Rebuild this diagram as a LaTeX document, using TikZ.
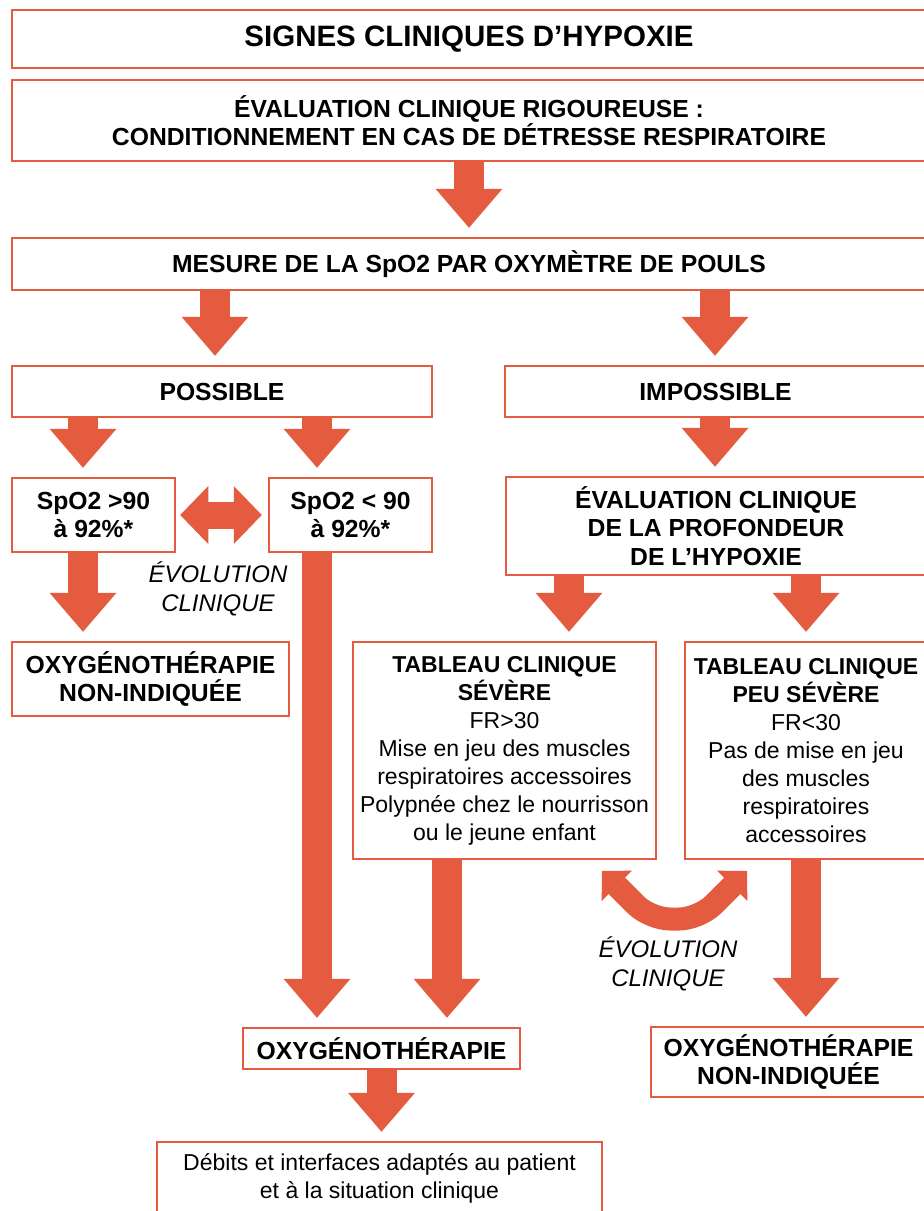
\documentclass[tikz,border=0pt]{standalone}
\usepackage{fontspec}
\setmainfont{Liberation Sans}
\usepackage{tikz}
\usetikzlibrary{arrows.meta}
\definecolor{hypred}{RGB}{228,91,64}

\begin{document}
\begin{tikzpicture}[x=1pt,y=-1pt,
        box/.style={draw=hypred,fill=white,line width=2.5pt,inner sep=0pt,align=center,
            font=\bfseries\fontsize{24.7}{28.5}\selectfont},
        plainbox/.style={box,font=\fontsize{23}{28}\selectfont},
        evo/.style={align=center,inner sep=0pt,font=\itshape\fontsize{24}{29}\selectfont},
        flow/.style={hypred,line width=30pt,shorten >=9pt,
            -{Triangle[width=67pt,length=39pt,line width=0pt]}},
        twoway/.style={hypred,line width=27pt,
            {Triangle[width=58pt,length=28pt,line width=0pt]}-{Triangle[width=58pt,length=28pt,line width=0pt]}},
        loopflow/.style={hypred,line width=23pt,rounded corners=20pt,
            {Triangle[width=43pt,length=21pt,line width=0pt]}-{Triangle[width=43pt,length=21pt,line width=0pt]}}]
        \useasboundingbox (0,0) rectangle (924,1211);
        \clip (0,0) rectangle (924,1211);
        \fill[white] (0,0) rectangle (924,1211);

        \node[box,minimum width=914,minimum height=58,font=\bfseries\fontsize{29.5}{34}\selectfont] (title) at (469,39) {SIGNES CLINIQUES D’HYPOXIE};
        \node[box,minimum width=914,minimum height=81] (evalrig) at (469,120.5) {ÉVALUATION CLINIQUE RIGOUREUSE :\\CONDITIONNEMENT EN CAS DE DÉTRESSE RESPIRATOIRE};
        \node[box,minimum width=914,minimum height=52] (mesure) at (469,264) {MESURE DE LA SpO2 PAR OXYMÈTRE DE POULS};
        \node[box,minimum width=420,minimum height=51] (possible) at (222,391.5) {POSSIBLE};
        \node[box,minimum width=421,minimum height=51] (impossible) at (715.5,391.5) {IMPOSSIBLE};
        \node[box,minimum width=163,minimum height=74] (sup) at (93.5,515) {SpO2 >90\\à 92\%*};
        \node[box,minimum width=163,minimum height=74] (inf) at (350.5,515) {SpO2 < 90\\à 92\%*};
        \node[box,minimum width=420,minimum height=98] (evalprof) at (716,526) {ÉVALUATION CLINIQUE\\DE LA PROFONDEUR\\DE L’HYPOXIE};
        \node[box,minimum width=277,minimum height=74] (nonindA) at (150.5,679) {OXYGÉNOTHÉRAPIE\\NON-INDIQUÉE};
        \node[plainbox,minimum width=303,minimum height=217] (severe) at (504.5,750.5) {\textbf{TABLEAU CLINIQUE}\\\textbf{SÉVÈRE}\\FR>30\\Mise en jeu des muscles\\respiratoires accessoires\\Polypnée chez le nourrisson\\ou le jeune enfant};
        \node[plainbox,minimum width=242,minimum height=217] (peusevere) at (806,750.5) {\textbf{TABLEAU CLINIQUE}\\\textbf{PEU SÉVÈRE}\\FR<30\\Pas de mise en jeu\\des muscles\\respiratoires\\accessoires};
        \node[box,minimum width=277,minimum height=41] (oxy) at (381.5,1048.5) {OXYGÉNOTHÉRAPIE};
        \node[box,minimum width=275,minimum height=70] (nonindB) at (788.5,1062) {OXYGÉNOTHÉRAPIE\\NON-INDIQUÉE};
        \node[plainbox,minimum width=445,minimum height=72] (debits) at (379.5,1178) {Débits et interfaces adaptés au patient\\et à la situation clinique};

        \node[evo] (evoA) at (218,589) {ÉVOLUTION\\CLINIQUE};
        \node[evo] (evoB) at (668,964) {ÉVOLUTION\\CLINIQUE};

        \coordinate (colA) at (83,0);
        \coordinate (colB) at (317,0);
        \coordinate (colC) at (215,0);
        \coordinate (colD) at (715,0);
        \coordinate (colE) at (569,0);
        \coordinate (colF) at (806,0);
        \coordinate (colG) at (447,0);

        \draw[flow] (evalrig.south) -- (mesure.north);
        \draw[flow] (mesure.south -| colC) -- (possible.north -| colC);
        \draw[flow] (mesure.south -| colD) -- (impossible.north -| colD);
        \draw[flow] (possible.south -| colA) -- (sup.north -| colA);
        \draw[flow] (possible.south -| colB) -- (inf.north -| colB);
        \draw[flow] (impossible.south -| colD) -- (evalprof.north -| colD);
        \draw[flow] (sup.south -| colA) -- (nonindA.north -| colA);
        \draw[flow] (inf.south -| colB) -- (oxy.north -| colB);
        \draw[flow] (evalprof.south -| colE) -- (severe.north -| colE);
        \draw[flow] (evalprof.south -| colF) -- (peusevere.north -| colF);
        \draw[flow] (severe.south -| colG) -- (oxy.north -| colG);
        \draw[flow] (peusevere.south -| colF) -- (nonindB.north -| colF);
        \draw[flow] (oxy.south) -- (oxy.south |- debits.north);

        \draw[twoway] ([xshift=4]sup.east) -- ([xshift=-6]inf.west);

        \coordinate (loopL) at (602,871);
        \coordinate (loopR) at (747,871);
        \draw[loopflow] (loopL) -- (650,919) -- (699,919) -- (loopR);
\end{tikzpicture}
\end{document}
